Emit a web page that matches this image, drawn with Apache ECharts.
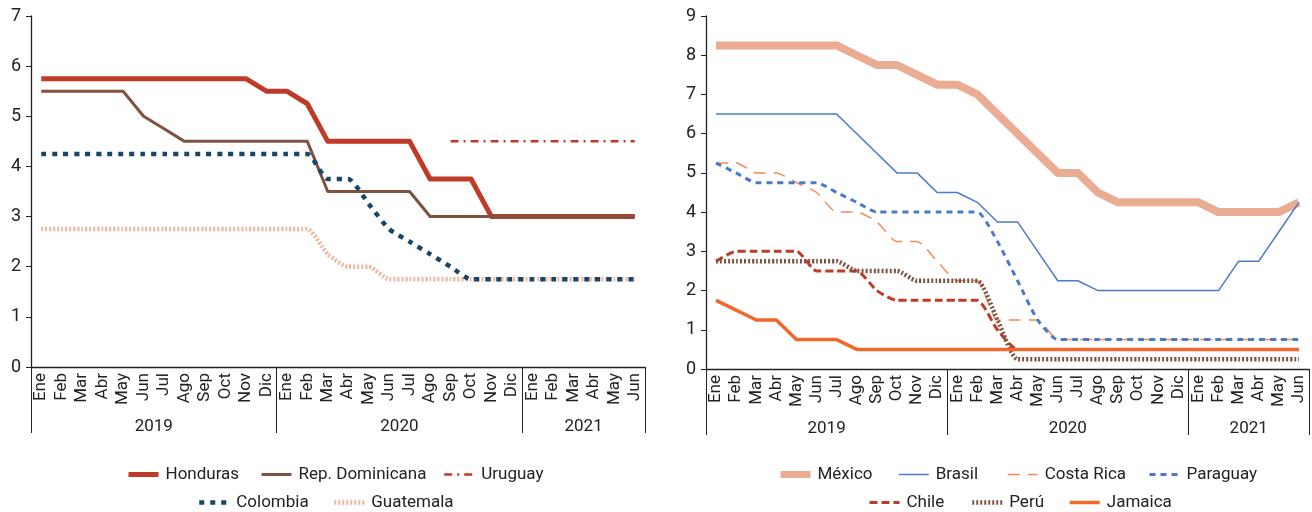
<!DOCTYPE html>
<html>
<head>
<meta charset="utf-8">
<script src="https://cdn.jsdelivr.net/npm/echarts@6/dist/echarts.min.js"></script>
<style>
  html, body { margin: 0; padding: 0; background: #fff; }
  #chart { width: 1312px; height: 512px; }
</style>
</head>
<body>
<div id="chart"></div>
<script>
'use strict';
// months Ene 2019 .. Jun 2021
var months = ['Ene','Feb','Mar','Abr','May','Jun','Jul','Ago','Sep','Oct','Nov','Dic',
              'Ene','Feb','Mar','Abr','May','Jun','Jul','Ago','Sep','Oct','Nov','Dic',
              'Ene','Feb','Mar','Abr','May','Jun'];
var years = ['2019', '2020', '2021'];
var yearStarts = [0, 12, 24, 30];

// left panel
var honduras = [5.75,5.75,5.75,5.75,5.75,5.75,5.75,5.75,5.75,5.75,5.75,5.5,
                5.5,5.25,4.5,4.5,4.5,4.5,4.5,3.75,3.75,3.75,3,3,
                3,3,3,3,3,3];
var repDominicana = [5.5,5.5,5.5,5.5,5.5,5,4.75,4.5,4.5,4.5,4.5,4.5,
                     4.5,4.5,3.5,3.5,3.5,3.5,3.5,3,3,3,3,3,
                     3,3,3,3,3,3];
var uruguay = [null,null,null,null,null,null,null,null,null,null,null,null,
               null,null,null,null,null,null,null,null,4.5,4.5,4.5,4.5,
               4.5,4.5,4.5,4.5,4.5,4.5];
var colombia = [4.25,4.25,4.25,4.25,4.25,4.25,4.25,4.25,4.25,4.25,4.25,4.25,
                4.25,4.25,3.75,3.75,3.25,2.75,2.5,2.25,2,1.75,1.75,1.75,
                1.75,1.75,1.75,1.75,1.75,1.75];
var guatemala = [2.75,2.75,2.75,2.75,2.75,2.75,2.75,2.75,2.75,2.75,2.75,2.75,
                 2.75,2.75,2.25,2,2,1.75,1.75,1.75,1.75,1.75,1.75,1.75,
                 1.75,1.75,1.75,1.75,1.75,1.75];

// right panel
var mexico = [8.25,8.25,8.25,8.25,8.25,8.25,8.25,8,7.75,7.75,7.5,7.25,
              7.25,7,6.5,6,5.5,5,5,4.5,4.25,4.25,4.25,4.25,
              4.25,4,4,4,4,4.25];
var brasil = [6.5,6.5,6.5,6.5,6.5,6.5,6.5,6,5.5,5,5,4.5,
              4.5,4.25,3.75,3.75,3,2.25,2.25,2,2,2,2,2,
              2,2,2.75,2.75,3.5,4.25];
var costaRica = [5.25,5.25,5,5,4.75,4.5,4,4,3.75,3.25,3.25,2.75,
                 2.25,2.25,1.25,1.25,1.25,0.75,0.75,0.75,0.75,0.75,0.75,0.75,
                 0.75,0.75,0.75,0.75,0.75,0.75];
var paraguay = [5.25,5,4.75,4.75,4.75,4.75,4.5,4.25,4,4,4,4,
                4,4,3.25,2.25,1.25,0.75,0.75,0.75,0.75,0.75,0.75,0.75,
                0.75,0.75,0.75,0.75,0.75,0.75];
var chile = [2.75,3,3,3,3,2.5,2.5,2.5,2,1.75,1.75,1.75,
             1.75,1.75,1,0.5,0.5,0.5,0.5,0.5,0.5,0.5,0.5,0.5,
             0.5,0.5,0.5,0.5,0.5,0.5];
var peru = [2.75,2.75,2.75,2.75,2.75,2.75,2.75,2.5,2.5,2.5,2.25,2.25,
            2.25,2.25,1.25,0.25,0.25,0.25,0.25,0.25,0.25,0.25,0.25,0.25,
            0.25,0.25,0.25,0.25,0.25,0.25];
var jamaica = [1.75,1.5,1.25,1.25,0.75,0.75,0.75,0.5,0.5,0.5,0.5,0.5,
               0.5,0.5,0.5,0.5,0.5,0.5,0.5,0.5,0.5,0.5,0.5,0.5,
               0.5,0.5,0.5,0.5,0.5,0.5];

var FONT = 'Roboto, sans-serif';
var AXIS = '#222';

// year axis: boundaryGap false, 31 slots on month boundaries, label in middle of each year
var yearSlots = [];
for (var i = 0; i <= months.length; i++) yearSlots.push('');
for (var k = 0; k < years.length; k++) {
    yearSlots[Math.floor((yearStarts[k] + yearStarts[k + 1]) / 2)] = years[k];
}

function monthAxis(gi) {
    return {
        type: 'category', gridIndex: gi, data: months, position: 'bottom',
        axisLine: { lineStyle: { color: AXIS, width: 1.3 } },
        axisTick: { interval: 0, length: 41, lineStyle: { color: AXIS } },
        axisLabel: { interval: 0, rotate: 90, margin: 6, fontFamily: FONT, fontSize: 17, color: '#222' }
    };
}
function yearAxis(gi) {
    return {
        type: 'category', gridIndex: gi, data: yearSlots, position: 'bottom', offset: 0,
        boundaryGap: false,
        axisLine: { show: false },
        axisTick: {
            length: 66, lineStyle: { color: AXIS },
            interval: function(idx) { return yearStarts.indexOf(idx) >= 0; }
        },
        axisLabel: { interval: 0, margin: 51, fontFamily: FONT, fontSize: 17, color: '#222' }
    };
}
function valueAxis(gi, max) {
    return {
        type: 'value', gridIndex: gi, min: 0, max: max, interval: 1,
        splitLine: { show: false },
        axisLine: { show: true, lineStyle: { color: AXIS, width: 1.3 } },
        axisTick: { show: true, length: 5, lineStyle: { color: AXIS } },
        axisLabel: { margin: 10, fontFamily: FONT, fontSize: 18, color: '#222' }
    };
}
function line(name, data, gi, color, width, type, smooth) {
    return {
        name: name, type: 'line', data: data,
        xAxisIndex: gi * 2, yAxisIndex: gi,
        symbol: 'none', smooth: smooth || false,
        lineStyle: { color: color, width: width, type: type || 'solid', cap: 'butt', join: 'round' },
        itemStyle: { color: color }
    };
}
// one legend per item so each sits where the reference has it
function legend(left, top, name, w) {
    return {
        left: left, top: top, padding: 0, data: [name], itemWidth: 30, itemHeight: 12,
        itemStyle: { opacity: 0 },
        lineStyle: { width: w },
        textStyle: { fontFamily: FONT, fontSize: 17, color: '#222', padding: [0, 0, 0, 2] },
        selectedMode: false
    };
}
var row1 = 466, row2 = 494;

var chart = echarts.init(document.getElementById('chart'));
chart.setOption({
    backgroundColor: '#fff',
    animation: false,
    grid: [
        { left: 31, top: 16, width: 614, height: 351 },
        { left: 706, top: 16, width: 605, height: 353 }
    ],
    xAxis: [monthAxis(0), yearAxis(0), monthAxis(1), yearAxis(1)],
    yAxis: [valueAxis(0, 7), valueAxis(1, 9)],
    legend: [
        legend(126, row1, 'Honduras', 5),
        legend(260, row1, 'Rep. Dominicana', 3),
        legend(443, row1, 'Uruguay', 2.5),
        legend(197, row2, 'Colombia', 4.5),
        legend(332, row2, 'Guatemala', 4.5),
        legend(777, row1, 'México', 7),
        legend(898, row1, 'Brasil', 1.5),
        legend(1007, row1, 'Costa Rica', 1.5),
        legend(1148, row1, 'Paraguay', 3),
        legend(868, row2, 'Chile', 3),
        legend(970, row2, 'Perú', 4.5),
        legend(1068, row2, 'Jamaica', 3.5)
    ],
    series: [
        line('Honduras', honduras, 0, '#bf3a27', 5),
        line('Rep. Dominicana', repDominicana, 0, '#7d5340', 3),
        line('Uruguay', uruguay, 0, '#c0392b', 2.5, [8, 5, 2, 5]),
        line('Guatemala', guatemala, 0, '#f0b49b', 4.5, [2, 2], 0.2),
        line('Colombia', colombia, 0, '#17466b', 4.5, [5, 6], 0.2),

        line('México', mexico, 1, '#eaac92', 8),
        line('Costa Rica', costaRica, 1, '#f08a50', 1.5, [12, 8], 0.2),
        line('Paraguay', paraguay, 1, '#4a7bc8', 3, [6, 5], 0.2),
        line('Brasil', brasil, 1, '#4a7bc8', 1.5),
        line('Chile', chile, 1, '#bf3a27', 3, [8, 4], 0.2),
        line('Perú', peru, 1, '#7d5340', 4.5, [2, 2], 0.2),
        line('Jamaica', jamaica, 1, '#f0682c', 3.5)
    ]
});
</script>
</body>
</html>
